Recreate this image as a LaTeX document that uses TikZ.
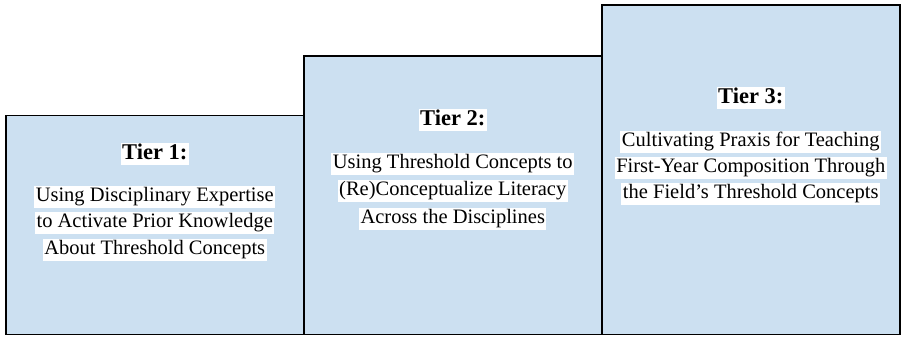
\documentclass[tikz,border=0pt]{standalone}
\usepackage{fontspec}
\setmainfont{Liberation Serif}
\definecolor{tierblue}{RGB}{204,224,241}
\begin{document}
\begin{tikzpicture}[x=1pt,y=-1pt,
  tierbox/.style={draw=black, line width=1.5pt, fill=tierblue, rectangle, anchor=south west, inner sep=0pt},
  hl/.style={fill=white, inner xsep=1.5pt, inner ysep=1.5pt, font=\fontsize{20.5}{22}\selectfont, text height=14pt, text depth=4.5pt},
  head/.style={hl, font=\fontsize{22.5}{24}\selectfont\bfseries, text height=15pt}]
\useasboundingbox (0,0) rectangle (901,337);
\node[tierbox, minimum width=298pt, minimum height=219pt] (b1) at (5,335) {};
\node[tierbox, minimum width=298pt, minimum height=278pt] (b2) at (303,335) {};
\node[tierbox, minimum width=298pt, minimum height=329pt] (b3) at (601,335) {};
% Tier 1
\node[head] (t1) at (b1.center |- 0,154) {Tier 1:};
\node[hl] (t1a) at (b1.center |- 0,197) {Using Disciplinary Expertise};
\node[hl] (t1b) at (b1.center |- 0,223) {to Activate Prior Knowledge};
\node[hl] (t1c) at (b1.center |- 0,250) {About Threshold Concepts};
% Tier 2
\node[head] (t2) at (b2.center |- 0,120) {Tier 2:};
\node[hl] (t2a) at (b2.center |- 0,164) {Using Threshold Concepts to};
\node[hl] (t2b) at (b2.center |- 0,191) {(Re)Conceptualize Literacy};
\node[hl] (t2c) at (b2.center |- 0,219) {Across the Disciplines};
% Tier 3
\node[head] (t3) at (b3.center |- 0,98) {Tier 3:};
\node[hl] (t3a) at (b3.center |- 0,142) {Cultivating Praxis for Teaching};
\node[hl] (t3b) at (b3.center |- 0,168) {First-Year Composition Through};
\node[hl] (t3c) at (b3.center |- 0,194) {the Field’s Threshold Concepts};
\end{tikzpicture}
\end{document}
